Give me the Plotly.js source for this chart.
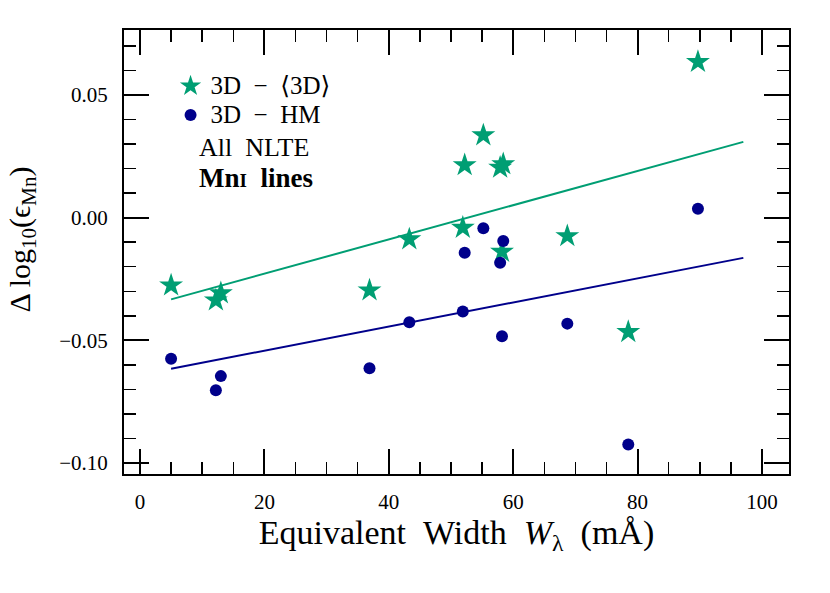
<!DOCTYPE html>
<html>
<head>
<meta charset="utf-8">
<script src="https://cdn.plot.ly/plotly-3.0.1.min.js"></script>
<style>html,body{margin:0;padding:0;background:#fff;} #chart{width:830px;height:593px;}</style>
</head>
<body>
<div id="chart"></div>
<script>
// Equivalent widths (mÅ) of the Mn I lines
const eqWidth = [5.0, 12.2, 13.0, 36.9, 43.3, 51.9, 52.2, 55.2, 57.9, 58.4, 58.2, 68.7, 78.5, 89.7];
// 3D - <3D> abundance differences
const diff3Dmean = [-0.0276, -0.0337, -0.0308, -0.0296, -0.0088, -0.0041, 0.0214, 0.0336, 0.0204, 0.0218, -0.0139, -0.0075, -0.0466, 0.0635];
// 3D - HM abundance differences
const diffHM = [-0.0575, -0.0704, -0.0646, -0.0614, -0.0426, -0.0383, -0.0143, -0.0043, -0.0184, -0.0095, -0.0483, -0.0432, -0.0925, 0.0036];
// linear fit lines (end points)
const fitX = [5.0, 97.0];
const fit3Dmean = [-0.0333, 0.0309];
const fitHM = [-0.0616, -0.0164];
// tick labels
const xTicks = [0, 20, 40, 60, 80, 100];
const yTicks = [-0.10, -0.05, 0.00, 0.05];

const GREEN = '#009E73';
const BLUE = '#00008B';
const FONT = 'Liberation Serif, DejaVu Serif, serif';
const XRANGE = [-2.57, 104.34];
const YRANGE = [-0.1045, 0.0765];
const SP = '\u2002';

const traces = [
  {x: fitX, y: fit3Dmean, mode: 'lines', line: {color: GREEN, width: 2}, showlegend: false, hoverinfo: 'skip'},
  {x: fitX, y: fitHM, mode: 'lines', line: {color: BLUE, width: 2}, showlegend: false, hoverinfo: 'skip'},
  {x: eqWidth, y: diff3Dmean, mode: 'markers',
   name: '<span style="font-size:25px">3D' + SP + '\u2212' + SP + '\u27E83D\u27E9</span>',
   marker: {symbol: 'star', size: 18, color: GREEN}},
  {x: eqWidth, y: diffHM, mode: 'markers',
   name: '<span style="font-size:25px">3D' + SP + '\u2212' + SP + 'HM</span>',
   marker: {symbol: 'circle', size: 12, color: BLUE}},
  // invisible trace so that the mirrored top/right axes are drawn
  {x: fitX, y: fitHM, xaxis: 'x2', yaxis: 'y2', mode: 'lines', line: {width: 0, color: 'rgba(0,0,0,0)'},
   opacity: 0, showlegend: false, hoverinfo: 'skip'}
];

const tickBase = {
  showline: true, linewidth: 2, linecolor: '#000',
  ticks: 'inside', ticklen: 25, tickwidth: 2, tickcolor: '#000',
  showgrid: false, zeroline: false,
  tickfont: {family: FONT, size: 21, color: '#000'}
};
const xMinor = {dtick: 5, tick0: 0, ticks: 'inside', ticklen: 12, tickwidth: 1.5, tickcolor: '#000'};
const yMinor = {dtick: 0.01, tick0: 0, ticks: 'inside', ticklen: 12, tickwidth: 1.5, tickcolor: '#000'};

const layout = {
  width: 830, height: 593,
  margin: {l: 124, r: 41, t: 30, b: 119},
  paper_bgcolor: '#fff', plot_bgcolor: '#fff',
  font: {family: FONT, color: '#000'},
  xaxis: Object.assign({}, tickBase, {
    range: XRANGE, tickvals: xTicks, ticklabelstandoff: 8, minor: xMinor, mirror: true,
    title: {text: 'Equivalent' + SP + 'Width' + SP + '<i>W</i><sub>\u03BB</sub>' + SP + '(m\u00C5)', font: {family: FONT, size: 34}, standoff: 6}
  }),
  yaxis: Object.assign({}, tickBase, {
    range: YRANGE, tickvals: yTicks, tickformat: '.2f', ticklabelstandoff: 10, minor: yMinor, mirror: true
  }),
  xaxis2: Object.assign({}, tickBase, {
    overlaying: 'x', anchor: 'y2', side: 'top', range: XRANGE, tickvals: xTicks, showticklabels: false, minor: xMinor
  }),
  yaxis2: Object.assign({}, tickBase, {
    overlaying: 'y', anchor: 'x2', side: 'right', range: YRANGE, tickvals: yTicks, showticklabels: false, minor: yMinor
  }),
  legend: {
    x: 0.07, y: 0.918, xanchor: 'left', yanchor: 'top',
    bgcolor: 'rgba(0,0,0,0)', borderwidth: 0,
    font: {family: FONT, size: 20, color: '#000'},
    tracegroupgap: 0
  },
  annotations: [
    {xref: 'paper', yref: 'paper', x: -0.153, y: 0.529, xanchor: 'center', yanchor: 'middle', showarrow: false,
     textangle: -90, text: '\u0394 log<sub>10</sub>(\u03F5<sub>Mn</sub>)', font: {family: FONT, size: 30, color: '#000'}},
    {xref: 'paper', yref: 'paper', x: 0.11, y: 0.736, xanchor: 'left', yanchor: 'middle', showarrow: false,
     text: 'All' + SP + 'NLTE', font: {family: FONT, size: 26, color: '#000'}},
    {xref: 'paper', yref: 'paper', x: 0.11, y: 0.667, xanchor: 'left', yanchor: 'middle', showarrow: false,
     text: '<b>Mn<span style="font-size:19px">I</span>' + SP + 'lines</b>', font: {family: FONT, size: 27, color: '#000'}}
  ]
};

Plotly.newPlot('chart', traces, layout, {displayModeBar: false, staticPlot: true});
</script>
</body>
</html>
